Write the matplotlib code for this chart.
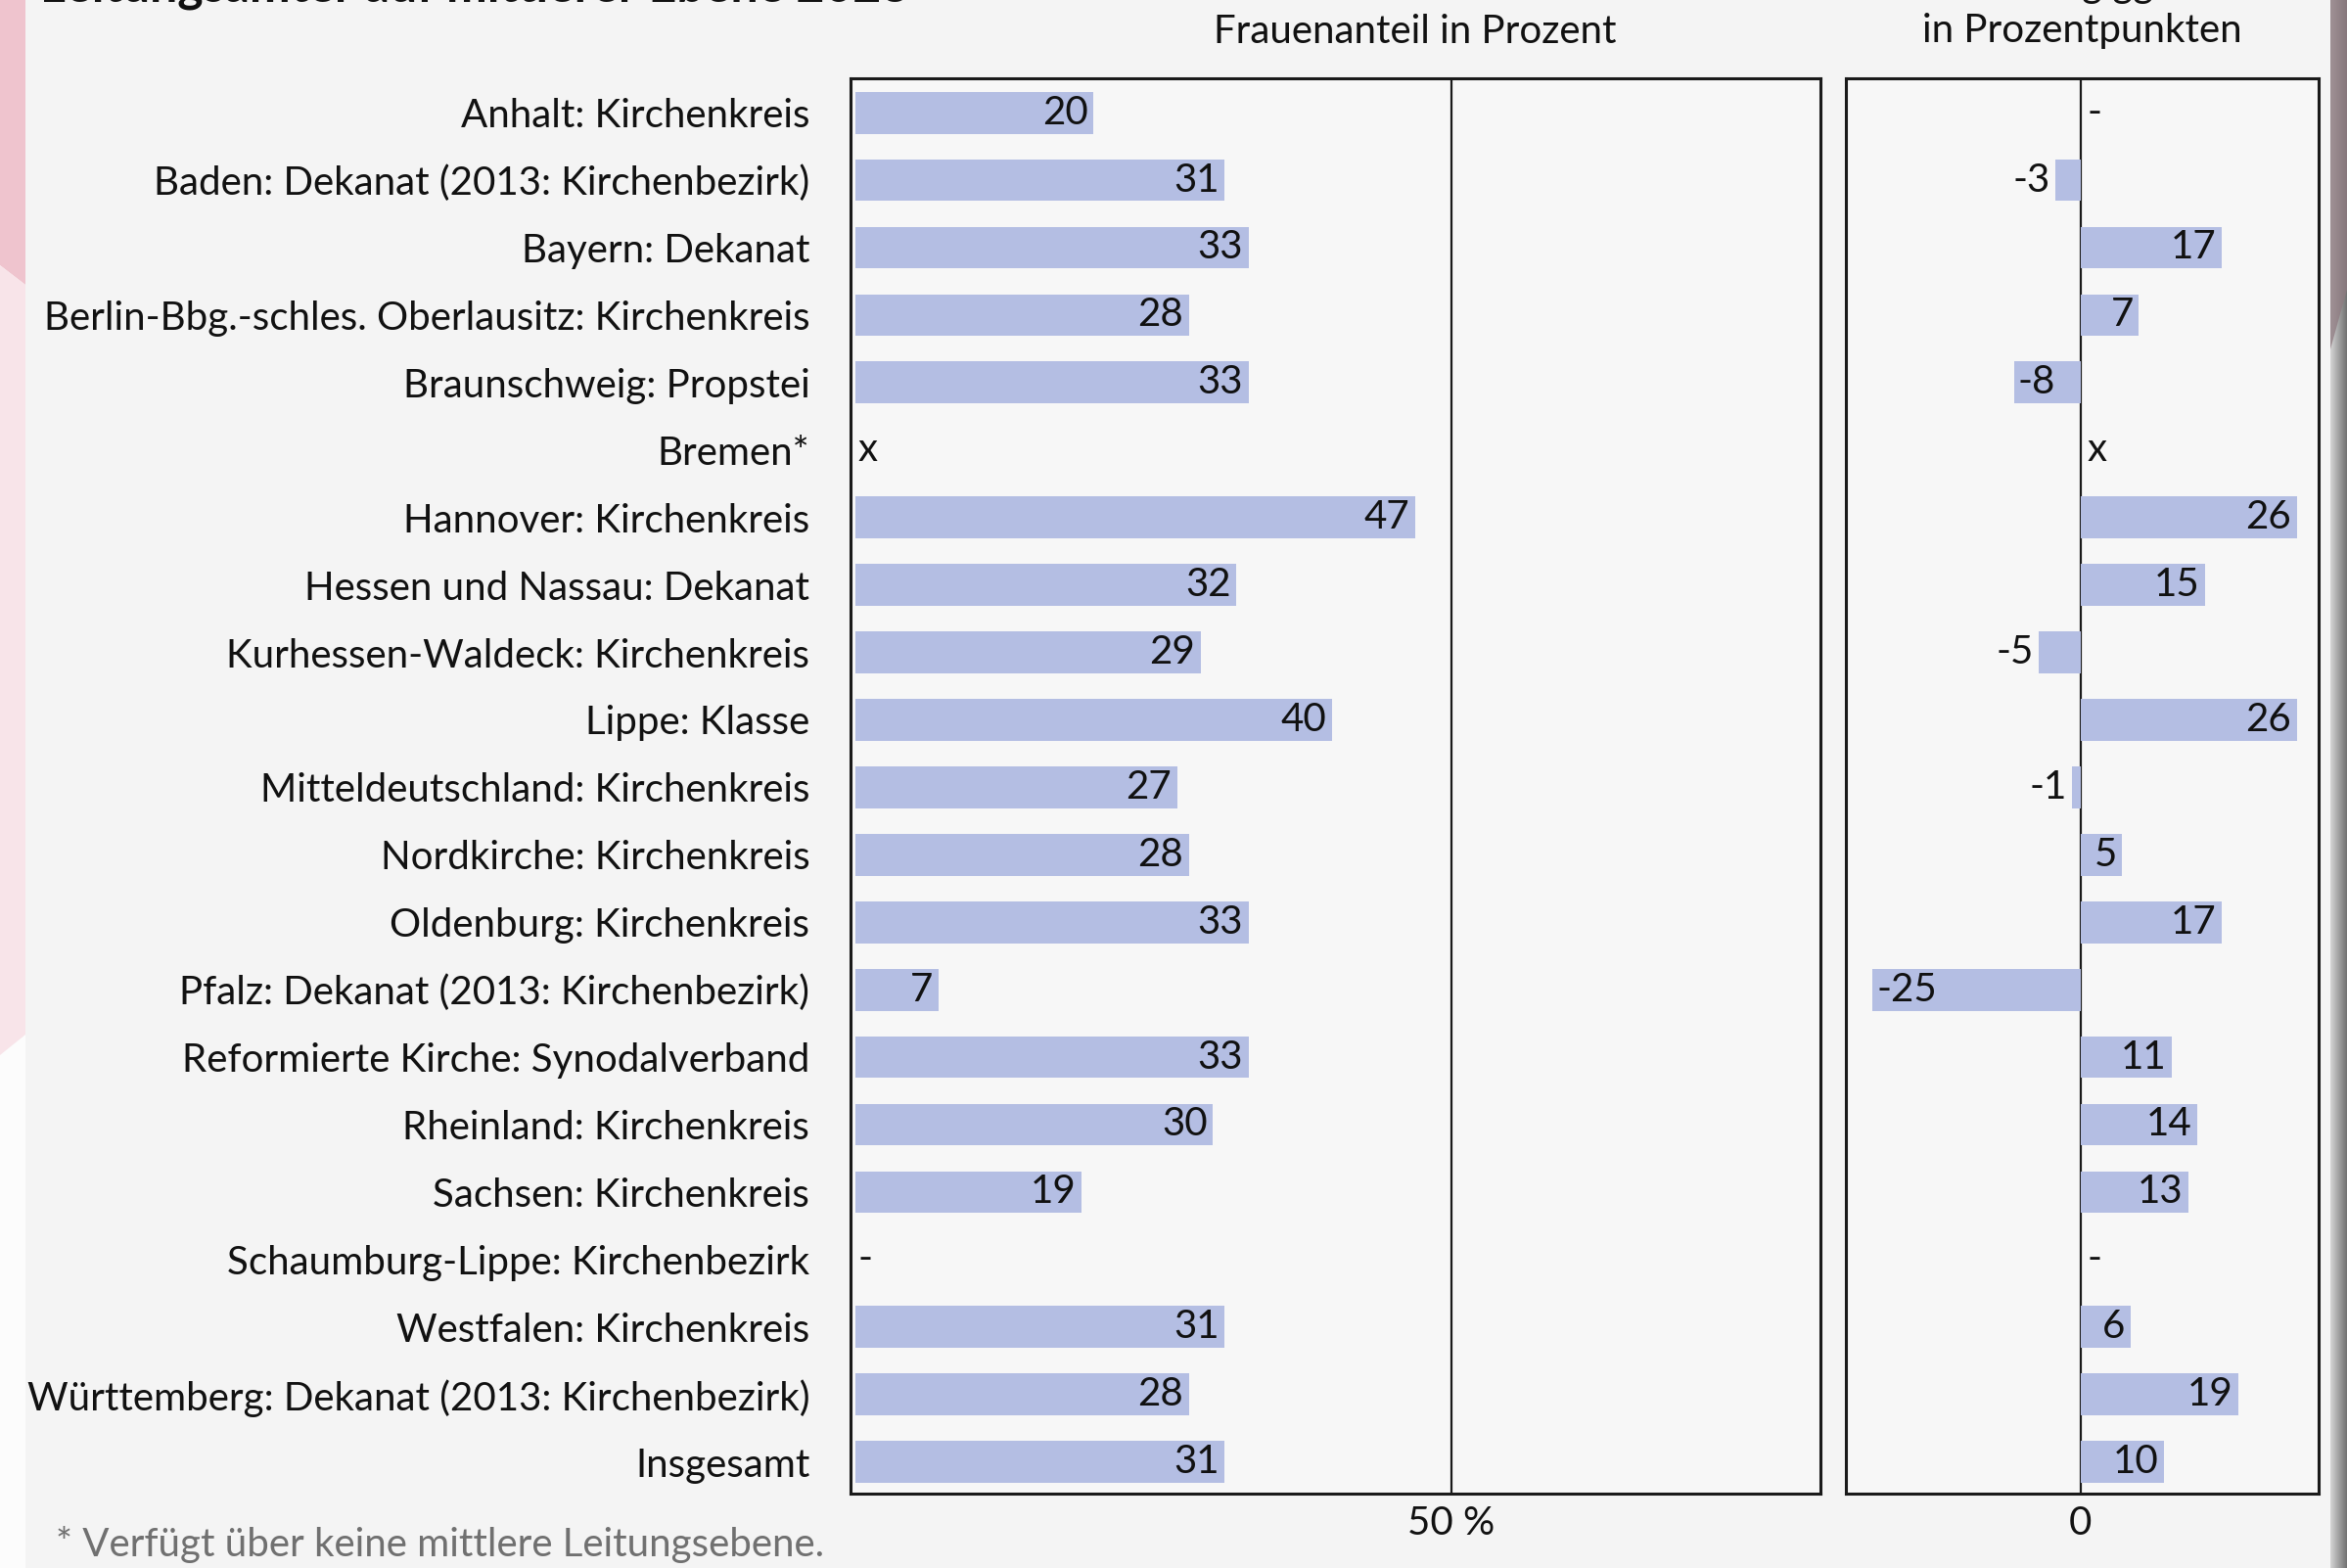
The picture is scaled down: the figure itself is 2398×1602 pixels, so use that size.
import numpy as np
import matplotlib.pyplot as plt
from matplotlib.patches import Polygon

# data
categories = [
    'Anhalt: Kirchenkreis',
    'Baden: Dekanat (2013: Kirchenbezirk)',
    'Bayern: Dekanat',
    'Berlin-Bbg.-schles. Oberlausitz: Kirchenkreis',
    'Braunschweig: Propstei',
    'Bremen*',
    'Hannover: Kirchenkreis',
    'Hessen und Nassau: Dekanat',
    'Kurhessen-Waldeck: Kirchenkreis',
    'Lippe: Klasse',
    'Mitteldeutschland: Kirchenkreis',
    'Nordkirche: Kirchenkreis',
    'Oldenburg: Kirchenkreis',
    'Pfalz: Dekanat (2013: Kirchenbezirk)',
    'Reformierte Kirche: Synodalverband',
    'Rheinland: Kirchenkreis',
    'Sachsen: Kirchenkreis',
    'Schaumburg-Lippe: Kirchenbezirk',
    'Westfalen: Kirchenkreis',
    'Württemberg: Dekanat (2013: Kirchenbezirk)',
    'Insgesamt',
]
share_2023 = [20, 31, 33, 28, 33, None, 47, 32, 29, 40, 27, 28, 33, 7, 33, 30, 19, None, 31, 28, 31]
change_2013 = [None, -3, 17, 7, -8, None, 26, 15, -5, 26, -1, 5, 17, -25, 11, 14, 13, None, 6, 19, 10]
share_notes = {'Bremen*': 'x', 'Schaumburg-Lippe: Kirchenbezirk': '-'}
change_notes = {'Anhalt: Kirchenkreis': '-', 'Bremen*': 'x', 'Schaumburg-Lippe: Kirchenbezirk': '-'}

title = 'Leitungsämter auf mittlerer Ebene 2023'
left_header = 'Frauenanteil in Prozent'
right_header = ['Veränderung ggü. 2013', 'in Prozentpunkten']
footnote = '* Verfügt über keine mittlere Leitungsebene.'

W, H = 2398, 1602
BG = '#f4f4f4'
AX_BG = '#f7f7f7'
BAR = '#b4bee3'
FONT = 'Lato'
FS = 29

plt.rcParams['font.family'] = [FONT, 'DejaVu Sans']


def fx(x):
    return x / W


def fy(y):
    return 1 - y / H


def style_axes(ax):
    ax.set_facecolor(AX_BG)
    for sp in ax.spines.values():
        sp.set_linewidth(2.2)
        sp.set_color('#1a1a1a')
    ax.tick_params(axis='both', length=0, labelsize=FS, colors='#111111')
    ax.tick_params(axis='x', pad=9)


def decorate(fig):
    # pink strip on the left edge
    fig.patches.append(Polygon([(fx(0), fy(0)), (fx(26), fy(0)), (fx(26), fy(1602)), (fx(0), fy(1602))],
                               closed=True, transform=fig.transFigure, color='#fcfcfc', lw=0))
    fig.patches.append(Polygon([(fx(0), fy(0)), (fx(26), fy(0)), (fx(26), fy(291)), (fx(0), fy(271))],
                               closed=True, transform=fig.transFigure, color='#efc4ce', lw=0))
    fig.patches.append(Polygon([(fx(0), fy(271)), (fx(26), fy(291)), (fx(26), fy(1057)), (fx(0), fy(1078))],
                               closed=True, transform=fig.transFigure, color='#f8e4e9', lw=0))
    # shadow on the right edge
    sh = fig.add_axes([fx(2381), 0, 17 / W, 1])
    sh.imshow(np.linspace(0.82, 0.45, 17)[None, :], cmap='gray', vmin=0, vmax=1,
              aspect='auto', extent=(0, 1, 0, 1))
    sh.add_patch(Polygon([(0, 1), (1, 1), (1, fy(296)), (0, fy(357))], closed=True,
                         color='#8e7a80', alpha=0.75, lw=0))
    sh.set_axis_off()


def main():
    fig = plt.figure(figsize=(W / 100, H / 100), dpi=100, facecolor=BG)
    decorate(fig)

    y = np.arange(len(categories))
    top, bottom = 80, 1526
    ax1 = fig.add_axes([fx(869), fy(bottom), (1860 - 869) / W, (bottom - top) / H])
    ax2 = fig.add_axes([fx(1886), fy(bottom), (2369 - 1886) / W, (bottom - top) / H])

    # left panel: share of women
    style_axes(ax1)
    idx = [i for i, v in enumerate(share_2023) if v is not None]
    vals = [share_2023[i] for i in idx]
    ax1.barh(idx, vals, height=0.62, color=BAR, zorder=2)
    for i, v in zip(idx, vals):
        ax1.annotate(str(v), (v, i), xytext=(-4, 0), textcoords='offset points',
                     ha='right', va='center', fontsize=FS, color='#111111', zorder=3)
    for name, sym in share_notes.items():
        ax1.annotate(sym, (0, categories.index(name)), xytext=(2, 0), textcoords='offset points',
                     ha='left', va='center', fontsize=FS, color='#111111')
    ax1.axvline(50, color='#1a1a1a', lw=1.6, zorder=1)
    ax1.set_xlim(-0.4, 81.0)
    ax1.set_ylim(20.47, -0.51)
    ax1.set_yticks(y, categories)
    ax1.tick_params(axis='y', pad=30)
    ax1.set_xticks([50], ['50 %'])

    # right panel: change since 2013
    style_axes(ax2)
    idx = [i for i, v in enumerate(change_2013) if v is not None]
    vals = [change_2013[i] for i in idx]
    ax2.barh(idx, vals, height=0.62, color=BAR, zorder=2)
    for i, v in zip(idx, vals):
        if v > 0:
            ax2.annotate(str(v), (v, i), xytext=(-4, 0), textcoords='offset points',
                         ha='right', va='center', fontsize=FS, color='#111111', zorder=3)
        elif v <= -8:
            ax2.annotate(str(v), (v, i), xytext=(3, 0), textcoords='offset points',
                         ha='left', va='center', fontsize=FS, color='#111111', zorder=3)
        else:
            ax2.annotate(str(v), (v, i), xytext=(-4, 0), textcoords='offset points',
                         ha='right', va='center', fontsize=FS, color='#111111', zorder=3)
    for name, sym in change_notes.items():
        ax2.annotate(sym, (0, categories.index(name)), xytext=(5, 0), textcoords='offset points',
                     ha='left', va='center', fontsize=FS, color='#111111')
    ax2.axvline(0, color='#1a1a1a', lw=1.6, zorder=1)
    ax2.set_xlim(-28.2, 28.6)
    ax2.set_ylim(20.47, -0.51)
    ax2.set_yticks([])
    ax2.set_xticks([0], ['0'])

    # texts around the panels (the reference is cropped at the top)
    fig.text(fx(41), fy(1), title, ha='left', va='baseline', fontsize=36,
             fontweight='bold', color='#111111')
    fig.text(fx(1446), fy(32), left_header, ha='center', va='center', fontsize=FS, color='#111111')
    fig.text(fx(2127), fy(-14), right_header[0], ha='center', va='center', fontsize=FS, color='#111111')
    fig.text(fx(2127), fy(32), right_header[1], ha='center', va='center', fontsize=FS, color='#111111')
    fig.text(fx(57), fy(1578), footnote, ha='left', va='center', fontsize=FS, color='#707070')

    fig.savefig('out.png', dpi=100, facecolor=BG)


if __name__ == "__main__":
    main()
